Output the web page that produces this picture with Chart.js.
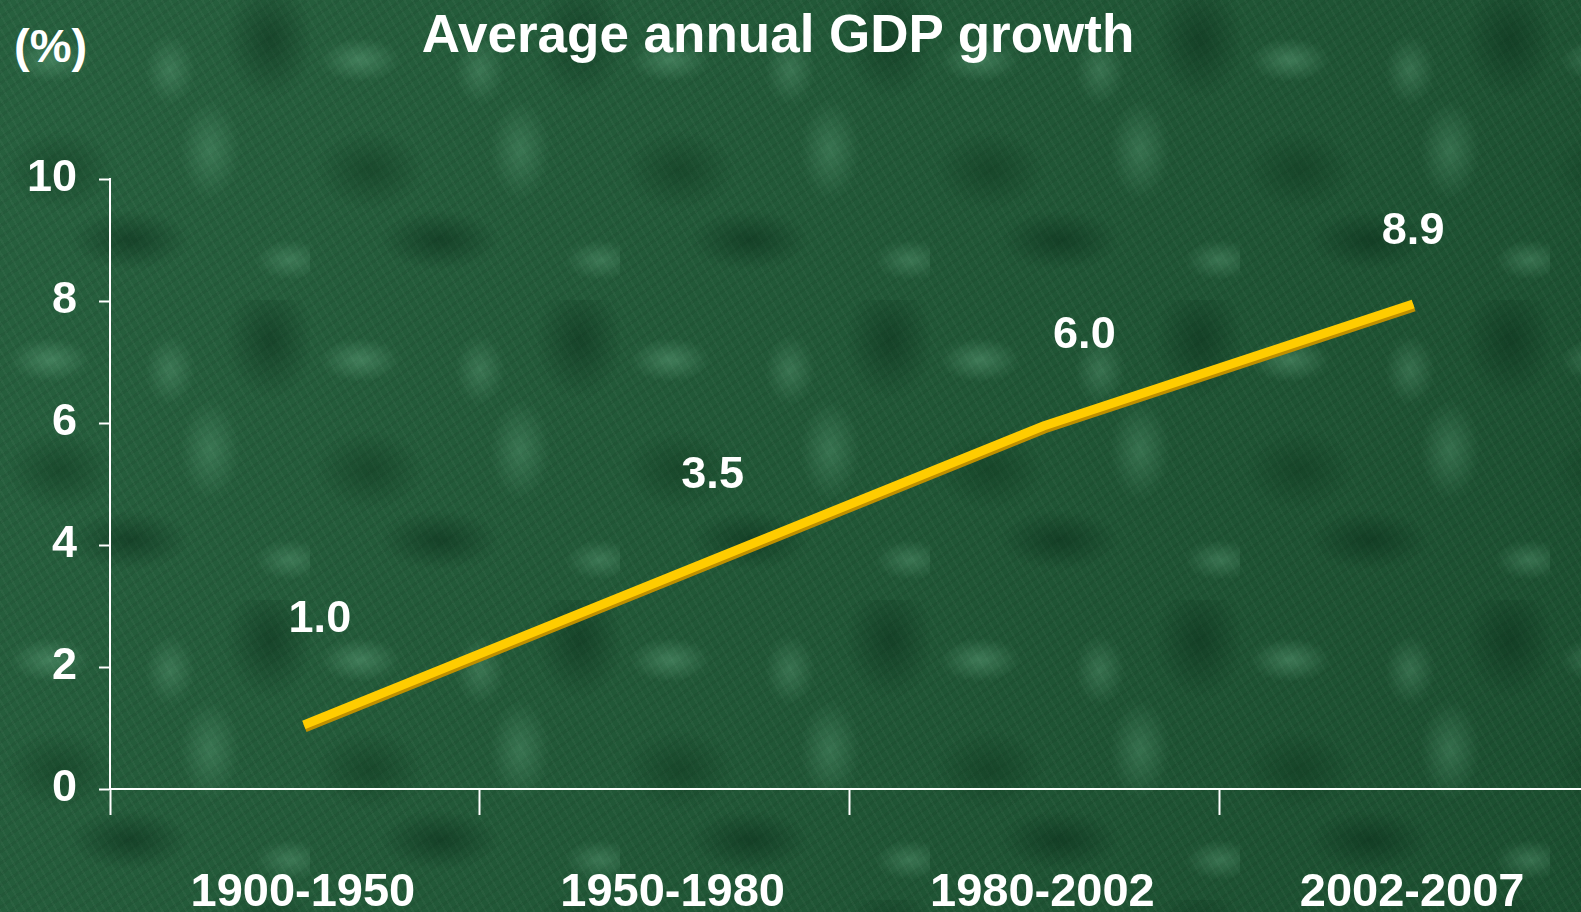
<!DOCTYPE html>
<html lang="en">
<head>
    <meta charset="UTF-8">
    <title>Average annual GDP growth</title>
    <script src="https://cdn.jsdelivr.net/npm/chart.js"></script>
    <style>
        html, body { margin: 0; padding: 0; }
        body {
            width: 1581px; height: 912px; overflow: hidden; position: relative;
            font-family: 'Liberation Sans', Arial, sans-serif;
            background-color: #1e5534;
            /* marble-ish texture made of soft blotches, tiled */
            background-image:
                radial-gradient(ellipse 40px 22px at 50px 60px, rgba(120,190,150,0.35), transparent),
                radial-gradient(ellipse 30px 50px at 210px 150px, rgba(110,180,140,0.30), transparent),
                radial-gradient(ellipse 60px 30px at 130px 240px, rgba(10,45,25,0.55), transparent),
                radial-gradient(ellipse 45px 60px at 270px 40px, rgba(10,45,25,0.5), transparent),
                radial-gradient(ellipse 55px 40px at 60px 170px, rgba(15,55,30,0.5), transparent),
                radial-gradient(ellipse 25px 35px at 170px 70px, rgba(130,200,160,0.25), transparent),
                radial-gradient(ellipse 35px 20px at 290px 260px, rgba(120,190,150,0.3), transparent),
                repeating-linear-gradient(60deg, rgba(255,255,255,0.03) 0 2px, transparent 2px 7px),
                repeating-linear-gradient(-35deg, rgba(0,0,0,0.05) 0 3px, transparent 3px 9px),
                linear-gradient(115deg, rgba(90,160,120,0.15), rgba(10,40,20,0.15));
            background-size: 310px 300px, 310px 300px, 310px 300px, 310px 300px, 310px 300px, 310px 300px, 310px 300px, auto, auto, 100% 100%;
        }
        .chart-title {
            position: absolute; left: 0; width: 1556px; top: 7px;
            text-align: center; color: #fff;
            font-size: 53px; font-weight: 700; line-height: 1;
        }
        .unit-label {
            position: absolute; left: 14px; top: 22px;
            color: #fff; font-size: 47px; font-weight: 700; line-height: 1;
        }
        /* plot runs a little past the right edge of the window, as in the original */
        .chart-box { position: absolute; left: 0; top: 0; width: 1589px; height: 912px; }
    </style>
</head>
<body>
    <div class="chart-title">Average annual GDP growth</div>
    <div class="unit-label">(%)</div>
    <div class="chart-box">
        <canvas id="gdpChart"></canvas>
    </div>

    <script>
        // data
        const periods = ['1900-1950', '1950-1980', '1980-2002', '2002-2007'];
        const growthLine = [1.05, 3.5, 5.95, 7.95];          // where the line is drawn
        const growthLabels = ['1.0', '3.5', '6.0', '8.9'];   // numbers printed over it
        const yTicks = [0, 2, 4, 6, 8, 10];

        const FONT = "'Liberation Sans', Arial, sans-serif";

        // value labels, shifted from each point (px)
        const valueLabelPlugin = {
            id: 'valueLabels',
            afterDatasetsDraw(chart, args, opts) {
                const ctx = chart.ctx;
                const meta = chart.getDatasetMeta(0);
                ctx.save();
                ctx.fillStyle = '#ffffff';
                ctx.font = 'bold 45px ' + FONT;
                ctx.textAlign = 'center';
                ctx.textBaseline = 'middle';
                meta.data.forEach(function(pt, i) {
                    const s = opts.shift[i];
                    ctx.fillText(growthLabels[i], pt.x + s[0], pt.y + s[1]);
                });
                ctx.restore();
            }
        };

        // darker gold edge under the line; line sits a bit right of the category centre
        const lineEdgePlugin = {
            id: 'lineEdge',
            beforeDatasetDraw(chart, args, opts) {
                const ctx = chart.ctx;
                ctx.save();
                ctx.translate(opts.dx, 0);
                ctx.shadowColor = '#bf8f00';
                ctx.shadowOffsetX = 1;
                ctx.shadowOffsetY = 3;
                ctx.shadowBlur = 0;
            },
            afterDatasetDraw(chart) {
                chart.ctx.restore();
            }
        };

        new Chart(document.getElementById('gdpChart').getContext('2d'), {
            type: 'line',
            data: {
                labels: periods,
                datasets: [{
                    data: growthLine,
                    borderColor: '#ffcc00',
                    borderWidth: 9,
                    borderCapStyle: 'butt',
                    borderJoinStyle: 'miter',
                    pointRadius: 0,
                    tension: 0,
                    fill: false,
                    clip: false
                }]
            },
            options: {
                responsive: true,
                maintainAspectRatio: false,
                animation: false,
                layout: { padding: { top: 179, right: 0, bottom: 0, left: 0 } },
                scales: {
                    x: {
                        type: 'category',
                        offset: true,
                        afterFit: function(scale) { scale.height = 123; },
                        border: { display: true, color: '#ffffff', width: 2 },
                        grid: {
                            offset: true,
                            drawOnChartArea: false,
                            drawTicks: true,
                            tickLength: 26,
                            tickWidth: 2,
                            tickColor: '#ffffff'
                        },
                        ticks: {
                            color: '#ffffff',
                            font: { family: FONT, size: 47, weight: 'bold' },
                            padding: 50,
                            labelOffset: 8,
                            maxRotation: 0,
                            autoSkip: false
                        }
                    },
                    y: {
                        min: 0,
                        max: 10,
                        afterFit: function(scale) { scale.width = 110; },
                        afterBuildTicks: function(scale) {
                            scale.ticks = yTicks.map(function(v) { return { value: v }; });
                        },
                        border: { display: true, color: '#ffffff', width: 2 },
                        grid: {
                            drawOnChartArea: false,
                            drawTicks: true,
                            tickLength: 11,
                            tickWidth: 2,
                            tickColor: '#ffffff'
                        },
                        ticks: {
                            color: '#ffffff',
                            font: { family: FONT, size: 45, weight: 'bold' },
                            padding: 22
                        }
                    }
                },
                plugins: {
                    legend: { display: false },
                    tooltip: { enabled: false },
                    lineEdge: { dx: 9 },
                    valueLabels: {
                        shift: [[25, -105], [48, -100], [50, -90], [9, -72]]
                    }
                }
            },
            plugins: [lineEdgePlugin, valueLabelPlugin]
        });
    </script>
</body>
</html>
